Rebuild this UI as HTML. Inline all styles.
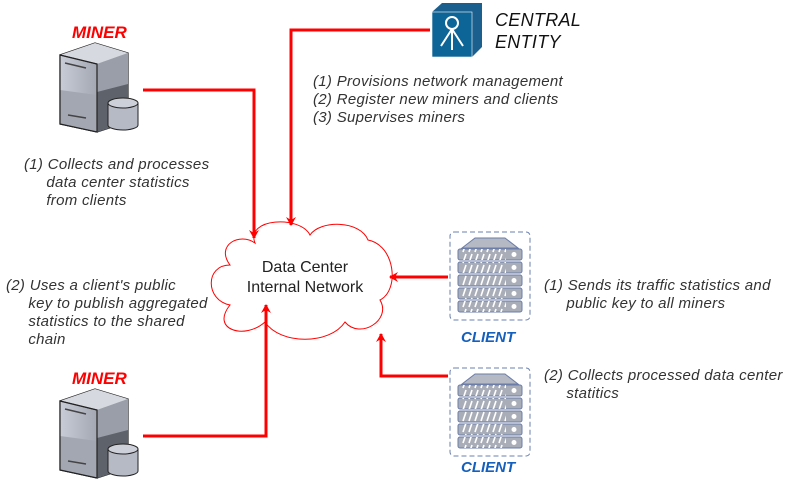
<!DOCTYPE html>
<html><head><style>
body{margin:0;width:801px;height:482px;background:#fff;overflow:hidden;position:relative;font-family:"Liberation Sans",sans-serif}
.t{position:absolute;font-style:italic;font-size:15px;letter-spacing:0.3px;color:#333;line-height:18px;white-space:nowrap}
.lbl{position:absolute;font-style:italic;font-weight:bold;font-size:17px}
</style></head><body>
<svg width="801" height="482" style="position:absolute;left:0;top:0">
<defs>
<marker id="a" markerWidth="10" markerHeight="10" refX="8" refY="5" orient="auto" markerUnits="userSpaceOnUse"><path d="M0,0 L9,5 L0,10 L3,5 Z" fill="#f00"/></marker>
<linearGradient id="g" x1="0" x2="1"><stop offset="0" stop-color="#c8ccd6"/><stop offset="1" stop-color="#a4a8b2"/></linearGradient>
<pattern id="st" width="6" height="11" patternUnits="userSpaceOnUse"><path d="M4,1 L1,10" stroke="#fff" stroke-width="1.6"/></pattern>
</defs>
<!-- cloud -->
<path d="M255,243 C245,218 300,215 310,235 C320,220 360,220 368,240 C395,245 400,290 380,300 C392,320 360,340 345,322 C330,345 280,345 265,322 C245,340 210,330 230,305 C205,300 205,265 230,265 C215,245 240,232 255,243 Z" fill="#fff" stroke="#f00" stroke-width="1"/>
<g stroke="#f00" stroke-width="3" fill="none">
<path d="M143,90 H254 V238" marker-end="url(#a)"/>
<path d="M430,30 H291 V225" marker-end="url(#a)"/>
<path d="M448,277 H390" marker-end="url(#a)"/>
<path d="M448,376 H381 V334" marker-end="url(#a)"/>
<path d="M143,436 H266 V305" marker-end="url(#a)"/>
</g>
<!-- miners -->
<g id="m">
<path d="M60,55 L95,43 L128,53 L128,122 L97,132 L60,124 Z" fill="#6e727b" stroke="#222" stroke-width="1.2"/>
<path d="M97,64 L128,53 L128,122 L97,132 Z" fill="#9a9ea8"/>
<path d="M97,92 L128,84 L128,122 L97,132 Z" fill="#5e626a"/>
<path d="M60,55 L95,43 L128,53 L97,64 Z" fill="#d6d9e0"/>
<path d="M60,55 L97,64 L97,132 L60,124 Z" fill="url(#g)" stroke="#222" stroke-width="1"/>
<path d="M60,90 L97,95 L97,132 L60,124 Z" fill="#a3a7b1"/>
<path d="M60,55 L97,64 L97,132 L60,124 Z" fill="none" stroke="#222" stroke-width="1.2"/>
<line x1="65" y1="63" x2="86" y2="68" stroke="#444" stroke-width="1.5"/>
<line x1="68" y1="115" x2="86" y2="118" stroke="#444" stroke-width="1.5"/>
<path d="M108,103 v22 a15,5 0 0 0 30,0 v-22" fill="#b6bac4" stroke="#222"/>
<ellipse cx="123" cy="103" rx="15" ry="5" fill="#cdd0d8" stroke="#222"/>
</g>
<use href="#m" x="0" y="346"/>
<!-- central -->
<path d="M432,12 L442,3 L482,3 L482,47 L472,57 L432,57 Z" fill="#1b5f8f"/>
<rect x="432" y="12" width="40" height="45" fill="#0d6496" stroke="#fff" stroke-width="0.6"/>
<circle cx="452" cy="23" r="6" fill="none" stroke="#fff" stroke-width="2"/>
<path d="M452,29 V50 M452,29 L441,46 M452,29 L463,46" stroke="#fff" stroke-width="2"/>
<!-- clients -->
<g id="c">
<rect x="450" y="232" width="80" height="88" rx="4" fill="none" stroke="#6a7fb0" stroke-dasharray="5,3"/>
<path d="M462,248 L475,238 L505,238 L518,248 Z" fill="#b5b9c4" stroke="#6b7da8"/>
<g stroke="#6b7da8">
<rect x="458" y="249" width="64" height="11" rx="2" fill="#a9adb8"/><rect x="458" y="262" width="64" height="11" rx="2" fill="#a9adb8"/><rect x="458" y="275" width="64" height="11" rx="2" fill="#a9adb8"/><rect x="458" y="288" width="64" height="11" rx="2" fill="#a9adb8"/><rect x="458" y="301" width="64" height="11" rx="2" fill="#a9adb8"/>
</g>
<g fill="url(#st)">
<rect x="462" y="249" width="44" height="11"/><rect x="462" y="262" width="44" height="11"/><rect x="462" y="275" width="44" height="11"/><rect x="462" y="288" width="44" height="11"/><rect x="462" y="301" width="44" height="11"/>
</g>
<g fill="#fff"><circle cx="514" cy="254.5" r="2.5"/><circle cx="514" cy="267.5" r="2.5"/><circle cx="514" cy="280.5" r="2.5"/><circle cx="514" cy="293.5" r="2.5"/><circle cx="514" cy="306.5" r="2.5"/></g>
</g>
<use href="#c" x="0" y="136"/>
</svg>
<div class="lbl" style="left:72px;top:23px;color:#f00">MINER</div>
<div class="lbl" style="left:72px;top:369px;color:#f00">MINER</div>
<div class="lbl" style="left:461px;top:329px;color:#1560bd;font-size:15px">CLIENT</div>
<div class="lbl" style="left:461px;top:459px;color:#1560bd;font-size:15px">CLIENT</div>
<div class="t" style="left:495px;top:9px;font-size:18px;line-height:22px;color:#111">CENTRAL<br>ENTITY</div>
<div class="t" style="left:313px;top:73px">(1) Provisions network management<br>(2) Register new miners and clients<br>(3) Supervises miners</div>
<div class="t" style="left:24px;top:156px">(1) Collects and processes<br>&nbsp;&nbsp;&nbsp;&nbsp;&nbsp;data center statistics<br>&nbsp;&nbsp;&nbsp;&nbsp;&nbsp;from clients</div>
<div class="t" style="left:6px;top:277px">(2) Uses a client's public<br>&nbsp;&nbsp;&nbsp;&nbsp;&nbsp;key to publish aggregated<br>&nbsp;&nbsp;&nbsp;&nbsp;&nbsp;statistics to the shared<br>&nbsp;&nbsp;&nbsp;&nbsp;&nbsp;chain</div>
<div class="t" style="left:544px;top:277px">(1) Sends its traffic statistics and<br>&nbsp;&nbsp;&nbsp;&nbsp;&nbsp;public key to all miners</div>
<div class="t" style="left:544px;top:367px">(2) Collects processed data center<br>&nbsp;&nbsp;&nbsp;&nbsp;&nbsp;statitics</div>
<div style="position:absolute;left:230px;top:258px;width:150px;text-align:center;font-size:16px;line-height:20px;color:#222">Data Center<br>Internal Network</div>
</body></html>
